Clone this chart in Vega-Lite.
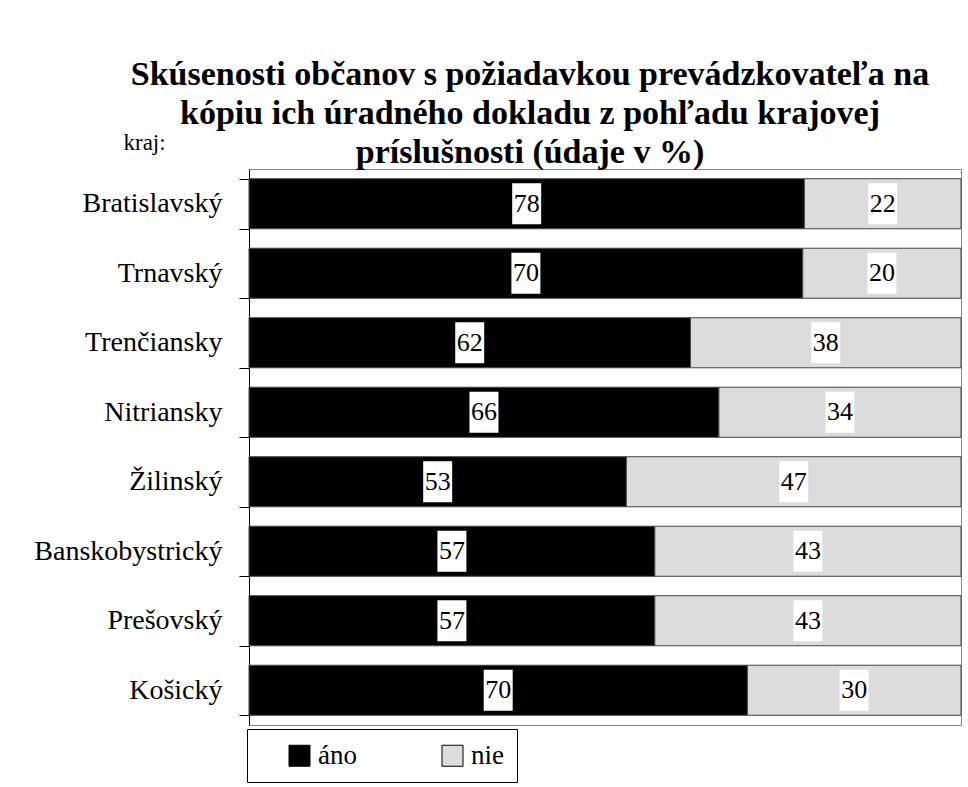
{
  "$schema": "https://vega.github.io/schema/vega-lite/v6.json",
  "width": 712,
  "height": 556,
  "autosize": {"type": "none"},
  "padding": {"left": 249, "top": 169, "right": 7, "bottom": 62},
  "background": "white",
  "title": {
    "text": ["Skúsenosti občanov s požiadavkou prevádzkovateľa na", "kópiu ich úradného dokladu z pohľadu krajovej", "príslušnosti (údaje v %)"],
    "font": "Liberation Serif",
    "fontSize": 34,
    "fontWeight": "bold",
    "color": "black",
    "anchor": "middle",
    "frame": "group",
    "baseline": "alphabetic",
    "lineHeight": 39,
    "offset": -66,
    "dx": -75
  },
  "data": {
    "values": [
      {"kraj": "Bratislavský", "odpoved": "áno", "hodnota": 78},
      {"kraj": "Bratislavský", "odpoved": "nie", "hodnota": 22},
      {"kraj": "Trnavský", "odpoved": "áno", "hodnota": 70},
      {"kraj": "Trnavský", "odpoved": "nie", "hodnota": 20},
      {"kraj": "Trenčiansky", "odpoved": "áno", "hodnota": 62},
      {"kraj": "Trenčiansky", "odpoved": "nie", "hodnota": 38},
      {"kraj": "Nitriansky", "odpoved": "áno", "hodnota": 66},
      {"kraj": "Nitriansky", "odpoved": "nie", "hodnota": 34},
      {"kraj": "Žilinský", "odpoved": "áno", "hodnota": 53},
      {"kraj": "Žilinský", "odpoved": "nie", "hodnota": 47},
      {"kraj": "Banskobystrický", "odpoved": "áno", "hodnota": 57},
      {"kraj": "Banskobystrický", "odpoved": "nie", "hodnota": 43},
      {"kraj": "Prešovský", "odpoved": "áno", "hodnota": 57},
      {"kraj": "Prešovský", "odpoved": "nie", "hodnota": 43},
      {"kraj": "Košický", "odpoved": "áno", "hodnota": 70},
      {"kraj": "Košický", "odpoved": "nie", "hodnota": 30}
    ]
  },
  "transform": [
    {
      "stack": "hodnota",
      "groupby": ["kraj"],
      "sort": [{"field": "odpoved", "order": "descending"}],
      "offset": "normalize",
      "as": ["zac", "kon"]
    },
    {"calculate": "(datum.zac + datum.kon) / 2", "as": "stred"}
  ],
  "encoding": {
    "y": {
      "field": "kraj",
      "type": "nominal",
      "sort": ["Bratislavský", "Trnavský", "Trenčiansky", "Nitriansky", "Žilinský", "Banskobystrický", "Prešovský", "Košický"],
      "scale": {"paddingInner": 0.28, "paddingOuter": 0.14},
      "axis": {
        "title": "kraj:",
        "titleAngle": 0,
        "titleAlign": "left",
        "titleBaseline": "alphabetic",
        "titleX": -126,
        "titleY": -20,
        "titleFont": "Liberation Serif",
        "titleFontSize": 23,
        "titleFontWeight": "normal",
        "titleColor": "black",
        "labelFont": "Liberation Serif",
        "labelFontSize": 28,
        "labelColor": "black",
        "labelPadding": 17,
        "labelLimit": 300,
        "tickSize": 10,
        "tickColor": "black",
        "domainColor": "black",
        "tickBand": "extent"
      }
    }
  },
  "layer": [
    {
      "mark": {"type": "bar", "stroke": "#444444", "strokeWidth": 1},
      "encoding": {
        "x": {
          "field": "zac",
          "type": "quantitative",
          "scale": {"domain": [0, 1], "nice": false},
          "axis": null
        },
        "x2": {"field": "kon"},
        "color": {
          "field": "odpoved",
          "type": "nominal",
          "scale": {"domain": ["áno", "nie"], "range": ["#000000", "#dcdcdc"]},
          "legend": {
            "orient": "none",
            "legendX": -2,
            "legendY": 560,
            "direction": "horizontal",
            "gridAlign": "all",
            "title": " ",
            "titleOrient": "left",
            "titleFontSize": 8,
            "titlePadding": 26,
            "symbolType": "square",
            "symbolSize": 441,
            "symbolStrokeColor": "black",
            "symbolStrokeWidth": 1,
            "labelFont": "Liberation Serif",
            "labelFontSize": 27,
            "labelColor": "black",
            "labelOffset": 5,
            "columnPadding": 82,
            "padding": 13,
            "strokeColor": "black",
            "fillColor": "white"
          }
        }
      }
    },
    {
      "mark": {"type": "point", "shape": "M-0.707,-1H0.707V1H-0.707Z", "size": 1681, "filled": true, "color": "white", "opacity": 1, "strokeWidth": 0},
      "encoding": {
        "x": {"field": "stred", "type": "quantitative", "scale": {"domain": [0, 1], "nice": false}, "axis": null}
      }
    },
    {
      "mark": {"type": "text", "font": "Liberation Serif", "fontSize": 26, "color": "black", "baseline": "middle"},
      "encoding": {
        "x": {"field": "stred", "type": "quantitative", "scale": {"domain": [0, 1], "nice": false}, "axis": null},
        "text": {"field": "hodnota", "type": "quantitative"}
      }
    }
  ],
  "config": {"view": {"stroke": "#888888"}}
}
